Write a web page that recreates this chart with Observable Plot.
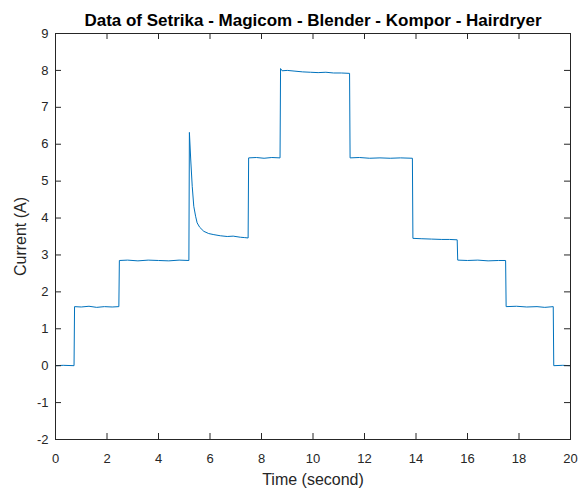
<!DOCTYPE html>
<html>
<head>
<meta charset="utf-8">
<script src="https://cdn.jsdelivr.net/npm/d3@7"></script>
<script src="https://cdn.jsdelivr.net/npm/@observablehq/plot@0.6"></script>
<style>
  html, body { margin: 0; padding: 0; background: white; }
</style>
</head>
<body>
<div id="chart"></div>
<script>
const chartTitle = "Data of Setrika - Magicom - Blender - Kompor - Hairdryer";
const xLabel = "Time (second)";
const yLabel = "Current (A)";

const xTicks = [0, 2, 4, 6, 8, 10, 12, 14, 16, 18, 20];
const yTicks = [-2, -1, 0, 1, 2, 3, 4, 5, 6, 7, 8, 9];

const time = [
  0, 0.3, 0.72,
  0.74, 1.0, 1.3, 1.6, 1.9, 2.2, 2.46,
  2.48, 2.8, 3.2, 3.6, 4.0, 4.4, 4.8, 5.18,
  5.2, 5.25, 5.31, 5.37, 5.44, 5.5, 5.6, 5.76, 5.95, 6.15, 6.4, 6.67, 6.9, 7.18, 7.35, 7.48,
  7.5, 7.8, 8.1, 8.4, 8.72,
  8.74, 8.8, 9.0, 9.3, 9.6, 9.9, 10.2, 10.5, 10.8, 11.1, 11.42,
  11.44, 11.8, 12.2, 12.6, 13.0, 13.4, 13.86,
  13.88, 14.2, 14.6, 15.0, 15.3, 15.6,
  15.62, 16.0, 16.4, 16.8, 17.2, 17.48,
  17.5, 17.9, 18.3, 18.7, 19.0, 19.33,
  19.35, 19.7, 20
];
const current = [
  0, 0.01, 0,
  1.6, 1.59, 1.61, 1.58, 1.6, 1.59, 1.6,
  2.85, 2.86, 2.84, 2.86, 2.85, 2.84, 2.86, 2.85,
  6.32, 5.6, 4.86, 4.32, 4.05, 3.87, 3.75, 3.64, 3.58, 3.55, 3.52, 3.5, 3.51, 3.48, 3.47, 3.46,
  5.63, 5.64, 5.62, 5.64, 5.63,
  8.05, 7.99, 8.0, 7.98, 7.96, 7.95, 7.94, 7.95, 7.93, 7.93, 7.92,
  5.63, 5.64, 5.62, 5.63, 5.62, 5.63, 5.62,
  3.45, 3.44, 3.43, 3.42, 3.42, 3.41,
  2.86, 2.85, 2.86, 2.84, 2.85, 2.85,
  1.6, 1.61, 1.59, 1.6, 1.58, 1.6,
  0, 0.01, 0
];

const data = time.map((t, i) => ({t, c: current[i]}));
const ink = "#262626";
const plain = d => String(d);

const W = 579, H = 490;
const mL = 55, mR = 9, mT = 33, mB = 51;
const frameW = W - mL - mR;
const frameH = H - mT - mB;
const tickLen = 6;

const chart = Plot.plot({
  width: W,
  height: H,
  marginLeft: mL,
  marginRight: mR,
  marginTop: mT,
  marginBottom: mB,
  style: {fontFamily: "'Liberation Sans', Arial, sans-serif", fontSize: "13px", color: ink, background: "white"},
  x: {domain: [0, 20]},
  y: {domain: [-2, 9]},
  marks: [
    Plot.line(data, {x: "t", y: "c", stroke: "#0072BD", strokeWidth: 1}),
    // inward tick marks on all four sides
    Plot.ruleX(xTicks, {x: d => d, insetTop: frameH - tickLen, stroke: ink}),
    Plot.ruleX(xTicks, {x: d => d, insetBottom: frameH - tickLen, stroke: ink}),
    Plot.ruleY(yTicks, {y: d => d, insetRight: frameW - tickLen, stroke: ink}),
    Plot.ruleY(yTicks, {y: d => d, insetLeft: frameW - tickLen, stroke: ink}),
    Plot.frame({stroke: ink, strokeWidth: 1}),
    // tick labels
    Plot.axisX(xTicks, {anchor: "bottom", tickSize: 0, tickPadding: 14, tickFormat: plain, label: null, fontSize: 13}),
    Plot.axisY(yTicks, {anchor: "left", tickSize: 0, tickPadding: 7, tickFormat: plain, label: null, fontSize: 13}),
    Plot.text([xLabel], {frameAnchor: "bottom", lineAnchor: "bottom", dy: 45, fontSize: 16, fill: ink}),
    Plot.text([yLabel], {frameAnchor: "left", textAnchor: "middle", lineAnchor: "middle", dx: -35, rotate: -90, fontSize: 16, fill: ink}),
    Plot.text([chartTitle], {frameAnchor: "top", lineAnchor: "middle", dy: -13, fontSize: 17, fontWeight: "bold", fill: "black"})
  ]
});
document.getElementById("chart").appendChild(chart);
</script>
</body>
</html>
